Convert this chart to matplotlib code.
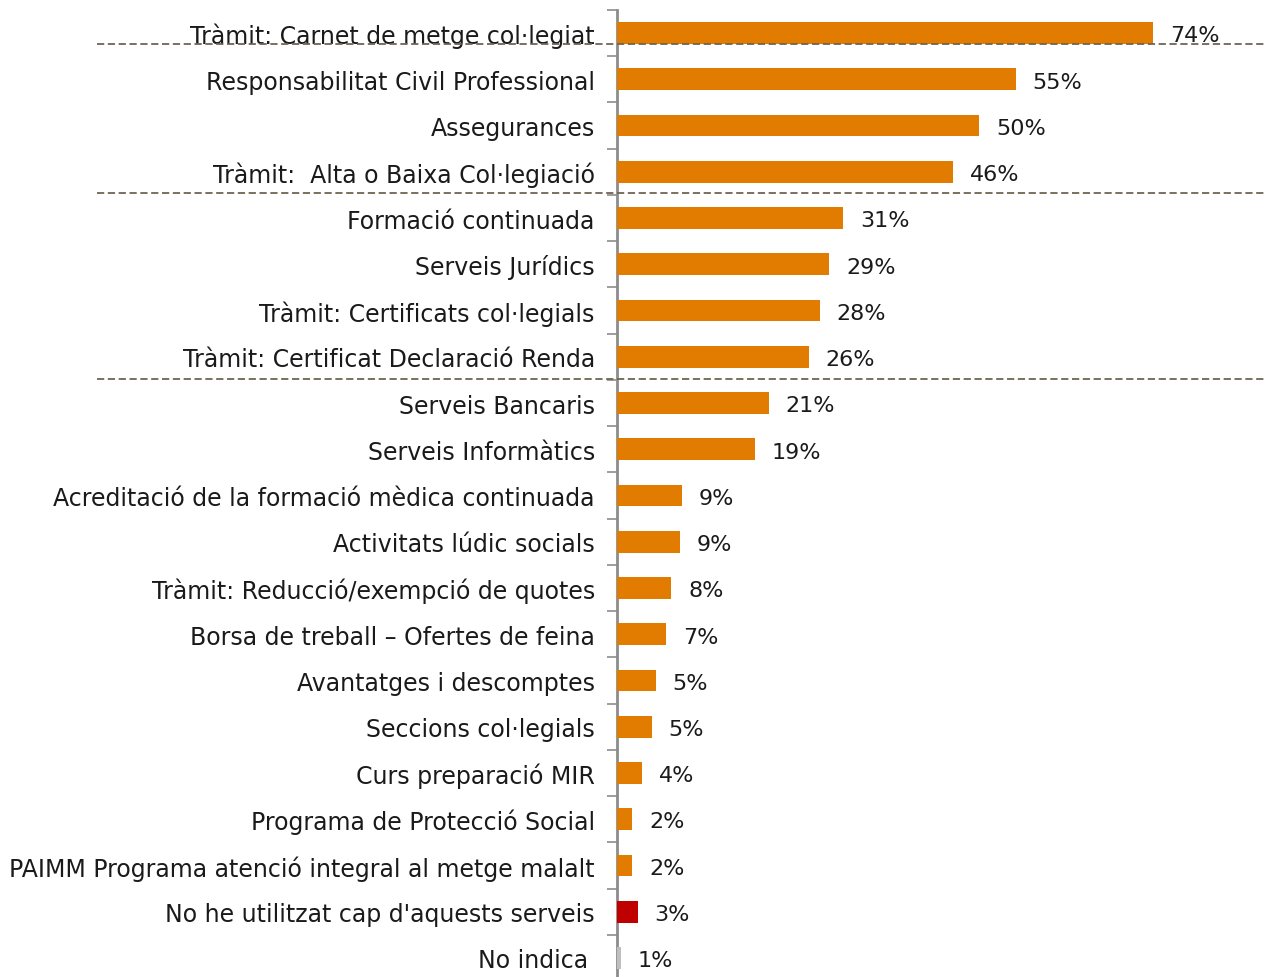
import matplotlib.pyplot as plt
from matplotlib.transforms import ScaledTranslation

# categories top -> bottom
categories = [
    "Tràmit: Carnet de metge col·legiat",
    "Responsabilitat Civil Professional",
    "Assegurances",
    "Tràmit:  Alta o Baixa Col·legiació",
    "Formació continuada",
    "Serveis Jurídics",
    "Tràmit: Certificats col·legials",
    "Tràmit: Certificat Declaració Renda",
    "Serveis Bancaris",
    "Serveis Informàtics",
    "Acreditació de la formació mèdica continuada",
    "Activitats lúdic socials",
    "Tràmit: Reducció/exempció de quotes",
    "Borsa de treball – Ofertes de feina",
    "Avantatges i descomptes",
    "Seccions col·legials",
    "Curs preparació MIR",
    "Programa de Protecció Social",
    "PAIMM Programa atenció integral al metge malalt",
    "No he utilitzat cap d'aquests serveis",
    "No indica",
]
values = [74.0, 55.0, 50.0, 46.4, 31.2, 29.3, 28.0, 26.5, 21.0, 19.0,
          9.0, 8.7, 7.5, 6.8, 5.4, 4.8, 3.5, 2.1, 2.1, 2.9, 0.6]
pct_labels = ["74%", "55%", "50%", "46%", "31%", "29%", "28%", "26%", "21%", "19%",
              "9%", "9%", "8%", "7%", "5%", "5%", "4%", "2%", "2%", "3%", "1%"]
bar_colors = ["#E17C00"] * 19 + ["#C00000", "#BFBFBF"]
group_breaks = [0.24, 3.45, 7.48]  # dashed separators (row positions)

plt.rcParams['font.family'] = ['DejaVu Sans']

W, H = 1267, 978
fig = plt.figure(figsize=(W / 100, H / 100), dpi=100)
top_px, bot_px = 11, 982
left_px, right_px = 617, 1267
ax = fig.add_axes([left_px / W, 1 - bot_px / H, (right_px - left_px) / W, (bot_px - top_px) / H])

y = list(range(len(categories)))
ax.barh(y, values, height=0.47, color=bar_colors, zorder=3)
ax.set_ylim(len(categories) - 0.5, -0.5)
ax.set_xlim(0, 89.7)

for yi, v, lab in zip(y, values, pct_labels):
    ax.text(v + 2.3, yi + 0.05, lab, va='center', ha='left', fontsize=16, color='#1a1a1a')

ax.set_yticks(y)
ax.set_yticklabels(categories, fontsize=17, color='#1a1a1a')
ax.tick_params(axis='y', length=0, pad=16)
ax.set_yticks([i + 0.5 for i in range(-1, len(categories))], minor=True)
ax.tick_params(axis='y', which='minor', length=7, width=1.2, color='#8c8c8c')
ax.set_xticks([])
for s in ['top', 'right', 'bottom']:
    ax.spines[s].set_visible(False)
ax.spines['left'].set_color('#8c8c8c')
ax.spines['left'].set_linewidth(2)

# last label sits a bit further left in the original
last = ax.get_yticklabels()[-1]
last.set_transform(last.get_transform() + ScaledTranslation(-0.07, 0, fig.dpi_scale_trans))

# dashed group separators spanning into the label area
x0 = (97 - left_px) / (right_px - left_px)
for gb in group_breaks:
    ax.plot([x0, 1.0], [gb, gb], transform=ax.get_yaxis_transform(),
            ls=(0, (4, 2)), color='#6E6553', lw=1.3, clip_on=False, zorder=4)

fig.savefig('out.png', dpi=100)
